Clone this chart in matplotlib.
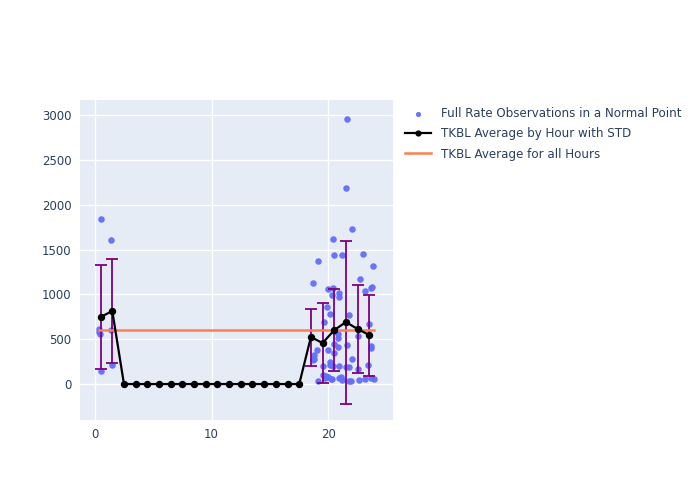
import matplotlib
matplotlib.use("Agg")
import matplotlib.pyplot as plt
import numpy as np

# Scatter observations (hour of day, full rate observations in a normal point)
obs_hour = [0.51, 1.43, 0.34, 0.46, 0.40, 0.57, 1.43, 1.48,
            21.6, 21.5, 22.0, 20.4, 19.1, 20.5, 21.2, 23.0, 23.85, 18.7, 22.7, 23.1,
            23.7, 23.65, 20.0, 20.4, 20.3, 20.9, 20.9, 19.9, 20.1, 21.8, 19.6, 23.5,
            20.85, 20.5, 22.5, 20.8, 23.6, 23.6, 20.85, 20.45, 21.6, 19.0, 20.0, 20.5,
            18.75, 18.7, 22.0, 23.4, 19.5, 20.1, 20.4, 20.9, 21.5, 21.8, 22.5, 20.1,
            19.1, 19.7, 20.0, 20.2, 20.3, 20.9, 21.1, 21.2, 21.8, 21.9, 22.6, 23.1,
            23.65, 23.9, 19.55, 19.8, 18.8]
obs_value = [1840, 1610, 610, 554, 580, 145, 602, 212,
             2952, 2186, 1725, 1617, 1372, 1435, 1435, 1453, 1312, 1126, 1171, 1041,
             1085, 1067, 1059, 1074, 989, 1011, 974, 862, 777, 770, 688, 673,
             558, 587, 539, 513, 427, 405, 416, 442, 431, 376, 376, 349,
             320, 268, 275, 215, 197, 215, 204, 204, 186, 186, 164, 245,
             33, 64, 75, 52, 52, 70, 81, 45, 33, 33, 45, 59,
             64, 59, 100, 90, 280]

# Hourly averages with standard deviation
hours = [h + 0.5 for h in range(24)]
hour_mean = [747, 814, 0, 0, 0, 0, 0, 0, 0, 0, 0, 0, 0, 0, 0, 0, 0, 0,
             524, 457, 602, 691, 613, 546]
hour_std = [575, 585, 0, 0, 0, 0, 0, 0, 0, 0, 0, 0, 0, 0, 0, 0, 0, 0,
            318, 446, 457, 909, 490, 452]

# Overall average
all_x = [0.35, 23.9]
all_mean = [600, 600]

fig = plt.figure(figsize=(7, 5), dpi=100)
ax = fig.add_axes([0.114, 0.16, 0.447, 0.64])
ax.set_facecolor("#E5ECF6")
for s in ax.spines.values():
    s.set_visible(False)
ax.grid(True, color="white", linewidth=1.0)
ax.set_axisbelow(True)

ax.scatter(obs_hour, obs_value, s=22, color="#636EFA", alpha=0.95, linewidths=0,
           label="Full Rate Observations in a Normal Point", zorder=2)

std_idx = [i for i in range(24) if hour_std[i] > 0]
ax.errorbar([hours[i] for i in std_idx], [hour_mean[i] for i in std_idx],
            yerr=[hour_std[i] for i in std_idx], fmt="none", ecolor="purple",
            elinewidth=1.3, capsize=4, capthick=1.3, zorder=3)
ax.plot(hours, hour_mean, color="black", linewidth=1.6, marker="o", markersize=4.3,
        label="TKBL Average by Hour with STD", zorder=4)
ax.plot(all_x, all_mean, color="#FF7F50", linewidth=1.8,
        label="TKBL Average for all Hours", zorder=3.5)

ax.set_xlim(-1.28, 25.5)
ax.set_ylim(-401, 3167)
ax.set_xticks([0, 10, 20])
ax.set_yticks([0, 500, 1000, 1500, 2000, 2500, 3000])
ax.tick_params(length=0, labelsize=8.5, labelcolor="#2a3f5f", pad=6)

leg = fig.legend(loc="upper left", bbox_to_anchor=(0.572, 0.795), frameon=False,
                 fontsize=8.6, labelcolor="#2a3f5f", handlelength=2.2,
                 borderaxespad=0, labelspacing=0.6, markerscale=0.8)

fig.savefig("out.png", dpi=100)
